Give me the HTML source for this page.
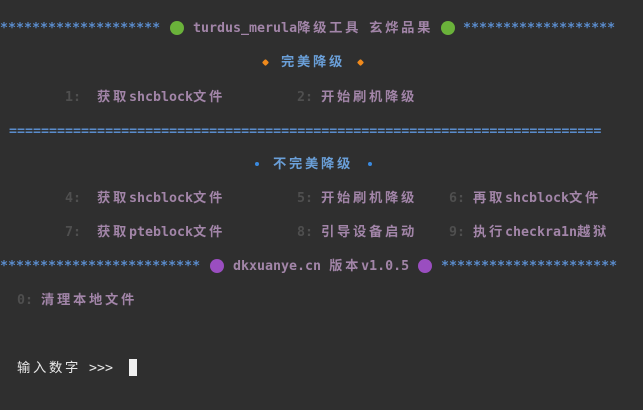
<!DOCTYPE html>
<html><head><meta charset="utf-8"><style>
html,body{margin:0;padding:0;}
body{width:643px;height:410px;background:#2f2f2f;position:relative;overflow:hidden;font-family:"DejaVu Sans Mono","Liberation Mono","Noto Sans CJK SC",monospace;font-size:13.3px;font-weight:bold;}
.t{position:absolute;white-space:pre;line-height:16px;margin-top:2px;}
.k{letter-spacing:2.7px;}
.s{color:#5a8ccc;}
.p{color:#a285a8;}
.n{color:#4f4f4f;}
.b{color:#6a9fd8;}
.w{color:#e6e6e6;font-weight:normal;}
.c{position:absolute;border-radius:50%;}
</style></head><body>
<div class="t s" style="left:0;top:19px">********************</div>
<div class="c" style="left:170px;top:21px;width:14px;height:14px;background:#6ab23a"></div>
<div class="t p" style="left:193px;top:19px">turdus_merula<span class="k">降级工具</span> <span class="k">玄烨品果</span></div>
<div class="c" style="left:441px;top:21px;width:14px;height:14px;background:#6ab23a"></div>
<div class="t s" style="left:463px;top:19px">*******************</div>

<div class="c" style="left:263px;top:60px;width:5px;height:5px;background:#f08a1c;border-radius:1px;transform:rotate(45deg)"></div>
<div class="t b k" style="left:281px;top:53px">完美降级</div>
<div class="c" style="left:358px;top:60px;width:5px;height:5px;background:#f08a1c;border-radius:1px;transform:rotate(45deg)"></div>

<div class="t n" style="left:65px;top:88px">1:</div>
<div class="t p" style="left:97px;top:88px"><span class="k">获取</span>shcblock<span class="k">文件</span></div>
<div class="t n" style="left:297px;top:88px">2:</div>
<div class="t p k" style="left:321px;top:88px">开始刷机降级</div>

<div class="t s" style="left:9px;top:122px">==========================================================================</div>

<div class="c" style="left:255px;top:162px;width:4px;height:4px;background:#3a8ae0"></div>
<div class="t b k" style="left:273px;top:155px">不完美降级</div>
<div class="c" style="left:368px;top:162px;width:4px;height:4px;background:#3a8ae0"></div>

<div class="t n" style="left:65px;top:189px">4:</div>
<div class="t p" style="left:97px;top:189px"><span class="k">获取</span>shcblock<span class="k">文件</span></div>
<div class="t n" style="left:297px;top:189px">5:</div>
<div class="t p k" style="left:321px;top:189px">开始刷机降级</div>
<div class="t n" style="left:449px;top:189px">6:</div>
<div class="t p" style="left:473px;top:189px"><span class="k">再取</span>shcblock<span class="k">文件</span></div>

<div class="t n" style="left:65px;top:223px">7:</div>
<div class="t p" style="left:97px;top:223px"><span class="k">获取</span>pteblock<span class="k">文件</span></div>
<div class="t n" style="left:297px;top:223px">8:</div>
<div class="t p k" style="left:321px;top:223px">引导设备启动</div>
<div class="t n" style="left:449px;top:223px">9:</div>
<div class="t p" style="left:473px;top:223px"><span class="k">执行</span>checkra1n<span class="k">越狱</span></div>

<div class="t s" style="left:0;top:257px">*************************</div>
<div class="c" style="left:210px;top:259px;width:14px;height:14px;background:#9a4ec0"></div>
<div class="t p" style="left:233px;top:257px">dkxuanye.cn <span class="k">版本</span>v1.0.5</div>
<div class="c" style="left:418px;top:259px;width:14px;height:14px;background:#9a4ec0"></div>
<div class="t s" style="left:441px;top:257px">**********************</div>

<div class="t n" style="left:17px;top:291px">0:</div>
<div class="t p k" style="left:41px;top:291px">清理本地文件</div>

<div class="t w" style="left:17px;top:359px"><span class="k">输入数字</span> >>></div>
<div style="position:absolute;left:129px;top:359px;width:8px;height:17px;background:#f0f0f0"></div>
</body></html>
